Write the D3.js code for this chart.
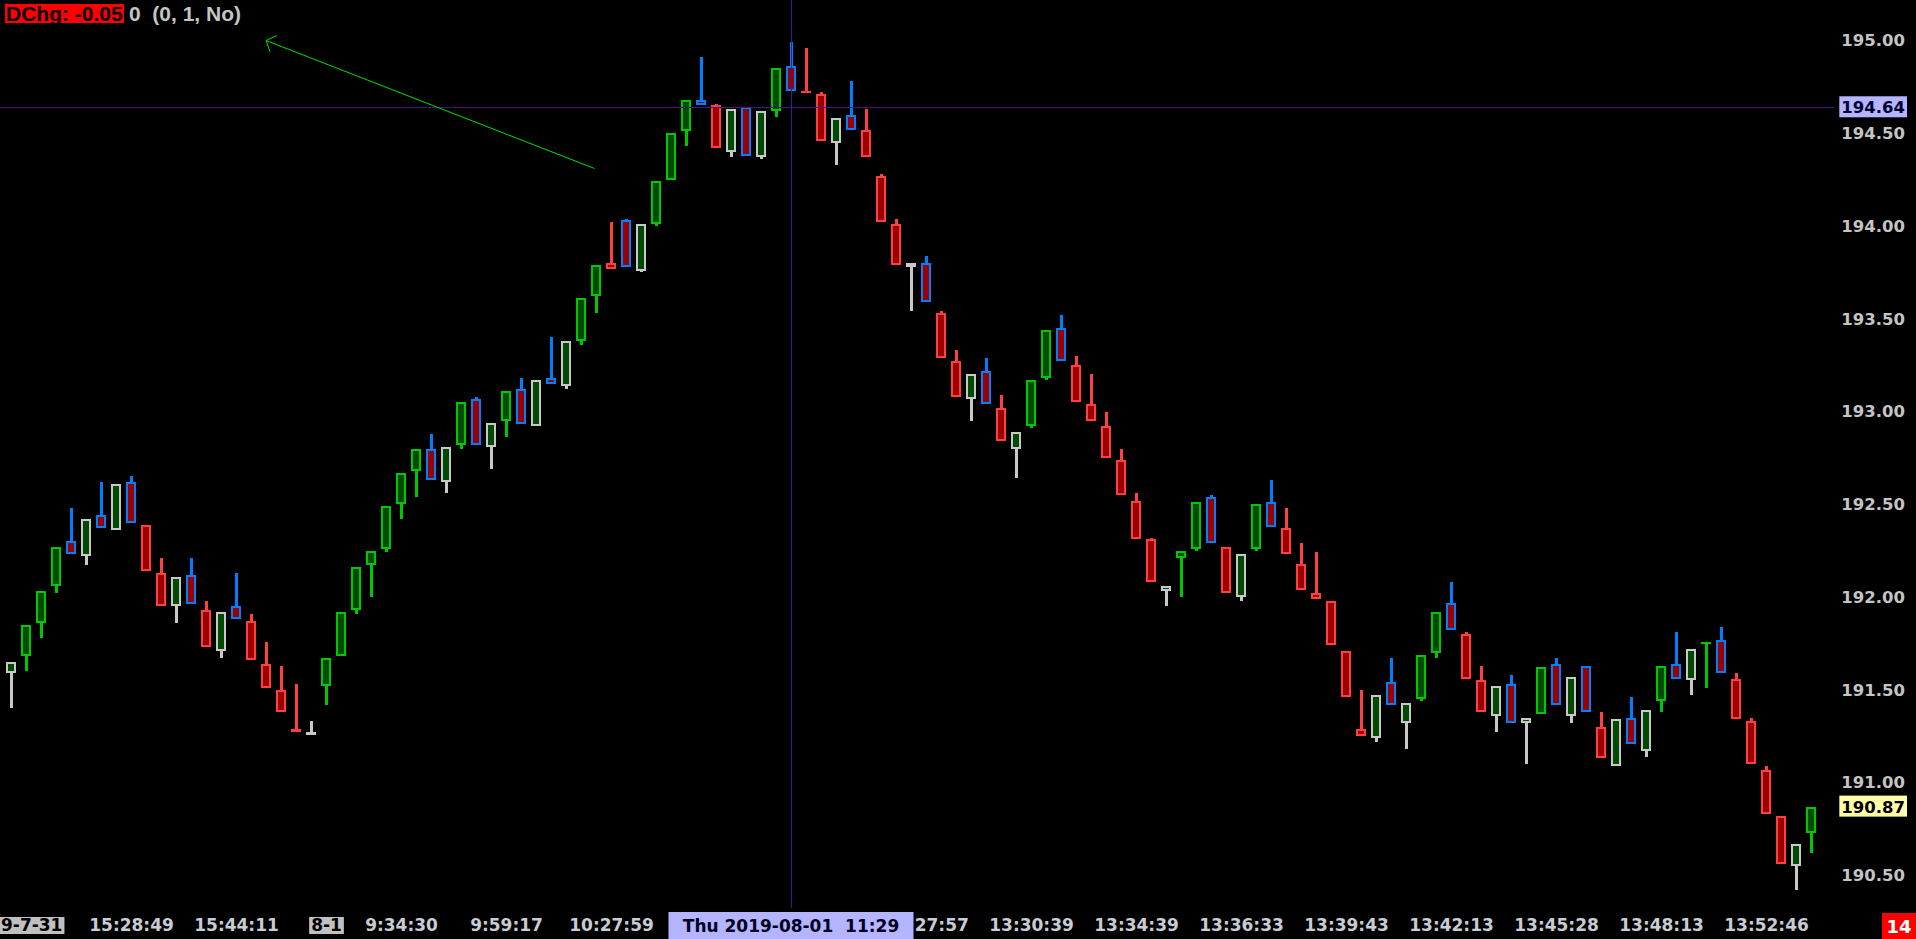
<!DOCTYPE html>
<html><head><meta charset="utf-8">
<script src="https://cdn.jsdelivr.net/npm/d3@7"></script>
<style>
html,body{margin:0;padding:0;background:#000;overflow:hidden}
svg{display:block}
text{white-space:pre}
</style></head><body>
<svg id="chart" width="1916" height="939"></svg>
<script>
// ---------- data ----------
const open = [191.59,191.68,191.86,192.06,192.30,192.22,192.44,192.36,192.62,192.39,
192.13,191.95,192.12,191.93,191.71,191.95,191.87,191.64,191.50,191.29,
191.26,191.52,191.68,191.93,192.17,192.26,192.50,192.68,192.80,192.62,
192.82,193.07,192.81,192.95,193.12,192.92,193.18,193.14,193.38,193.62,
193.80,194.03,193.76,194.01,194.25,194.51,194.68,194.65,194.40,194.64,
194.37,194.62,194.86,194.73,194.71,194.45,194.60,194.52,194.27,194.01,
193.78,193.80,193.53,193.27,193.07,193.22,193.02,192.80,192.92,193.18,
193.45,193.25,193.04,192.92,192.74,192.52,192.31,192.03,192.21,192.26,
192.54,192.27,192.00,192.26,192.51,192.37,192.18,192.02,191.98,191.71,
191.29,191.24,191.54,191.32,191.45,191.70,191.97,191.80,191.55,191.36,
191.53,191.32,191.37,191.64,191.36,191.63,191.30,191.09,191.35,191.17,
191.44,191.64,191.55,191.76,191.77,191.56,191.33,191.07,190.82,190.55,
190.73];
const high = [191.65,191.85,192.03,192.27,192.48,192.42,192.62,192.61,192.65,192.39,
192.21,192.11,192.21,191.98,191.92,192.13,191.91,191.76,191.63,191.53,
191.33,191.67,191.92,192.16,192.25,192.49,192.67,192.80,192.88,192.81,
193.05,193.08,192.94,193.11,193.18,193.17,193.40,193.38,193.61,193.79,
194.02,194.04,194.01,194.24,194.50,194.68,194.91,194.66,194.63,194.64,
194.62,194.85,194.99,194.96,194.72,194.58,194.78,194.63,194.28,194.04,
193.80,193.84,193.54,193.33,193.20,193.29,193.09,192.89,193.17,193.44,
193.52,193.30,193.20,193.00,192.80,192.56,192.32,192.06,192.25,192.51,
192.55,192.27,192.23,192.50,192.63,192.48,192.29,192.24,191.98,191.71,
191.50,191.47,191.67,191.43,191.69,191.92,192.08,191.81,191.63,191.52,
191.58,191.35,191.62,191.67,191.57,191.63,191.38,191.34,191.46,191.39,
191.63,191.81,191.72,191.76,191.84,191.59,191.35,191.09,190.82,190.67,
190.87];
const low = [191.40,191.60,191.78,192.02,192.23,192.17,192.37,192.36,192.40,192.14,
191.95,191.86,191.96,191.73,191.67,191.88,191.66,191.51,191.38,191.27,
191.26,191.42,191.68,191.91,192.00,192.24,192.42,192.54,192.63,192.56,
192.80,192.82,192.69,192.86,192.93,192.92,193.15,193.12,193.36,193.53,
193.77,193.78,193.75,194.00,194.25,194.43,194.65,194.42,194.37,194.38,
194.36,194.59,194.73,194.72,194.46,194.33,194.52,194.37,194.02,193.79,
193.54,193.59,193.29,193.08,192.95,193.04,192.84,192.64,192.91,193.17,
193.27,193.05,192.95,192.75,192.55,192.31,192.08,191.95,192.00,192.25,
192.29,192.02,191.98,192.25,192.38,192.23,192.04,191.99,191.74,191.46,
191.25,191.22,191.42,191.18,191.44,191.67,191.82,191.56,191.38,191.27,
191.32,191.10,191.37,191.42,191.32,191.38,191.13,191.09,191.21,191.14,
191.38,191.56,191.47,191.51,191.59,191.34,191.10,190.83,190.56,190.42,
190.62];
const close = [191.65,191.85,192.03,192.27,192.23,192.42,192.37,192.61,192.40,192.14,
191.95,192.11,191.96,191.73,191.92,191.88,191.66,191.51,191.38,191.27,
191.27,191.67,191.92,192.16,192.25,192.49,192.67,192.80,192.63,192.81,
193.05,192.82,192.94,193.11,192.93,193.17,193.15,193.38,193.61,193.79,
193.77,193.78,194.01,194.24,194.50,194.68,194.65,194.42,194.63,194.38,
194.62,194.85,194.73,194.72,194.46,194.58,194.52,194.37,194.02,193.79,
193.80,193.59,193.29,193.08,193.20,193.04,192.84,192.89,193.17,193.44,
193.27,193.05,192.95,192.75,192.55,192.31,192.08,192.06,192.25,192.51,
192.29,192.02,192.23,192.50,192.38,192.23,192.04,191.99,191.74,191.46,
191.25,191.47,191.42,191.43,191.69,191.92,191.82,191.56,191.38,191.52,
191.32,191.35,191.62,191.42,191.57,191.38,191.13,191.34,191.21,191.39,
191.63,191.56,191.72,191.76,191.59,191.34,191.10,190.83,190.56,190.67,
190.87];
// 1 = bar confirms its direction (trend outline), 0 = counter bar
const barSignal = [0,1,1,1,0,0,0,0,0,1, 1,0,0,1,0,0,1,1,1,1,
0,1,1,1,1,1,1,1,0,0, 1,0,0,1,0,0,0,0,1,1,
1,0,0,1,1,1,0,1,0,0, 0,1,0,1,1,0,0,1,1,1,
0,0,1,1,0,0,1,0,1,1, 0,1,1,1,1,1,1,0,1,1,
0,1,0,1,0,1,1,1,1,1, 1,0,0,0,1,1,0,1,1,0,
0,0,1,0,0,0,1,0,0,0, 1,0,0,1,0,1,1,1,1,0,
1];
const priceTicks = [190.5,191.0,191.5,192.0,192.5,193.0,193.5,194.0,194.5,195.0];
const timeTickIndex  = [1,8,15,21,26,33,40,61,68,75,82,89,96,103,110,117];
const timeTickLabels = ["9-7-31","15:28:49","15:44:11","8-1","9:34:30","9:59:17","10:27:59",
  "13:27:57","13:30:39","13:34:39","13:36:33","13:39:43","13:42:13","13:45:28","13:48:13","13:52:46"];
const dateTicks = ["9-7-31","8-1"];
const cursorIndex = 52, cursorPrice = 194.64, cursorLabel = "Thu 2019-08-01  11:29";
const dayChange = "DChg: -0.05", studyText = "0  (0, 1, No)", barCounter = "14";
const arrowFrom = {i: 38.9, p: 194.31}, arrowTo = {i: 17.0, p: 195.0};

// ---------- drawing ----------
const W = 1916, H = 939;
const svg = d3.select('#chart');
svg.append('rect').attr('width', W).attr('height', H).attr('fill', '#000');

const x = d3.scaleLinear().domain([0, open.length - 1]).range([11, 1811]);
const y = d3.scaleLinear().domain([190.5, 195]).range([875.25, 40.5]);

const bars = open.map((o, i) => ({i, o, h: high[i], l: low[i], c: close[i], s: barSignal[i]}));
const up = d => d.c >= d.o;
const outline = d => up(d) ? (d.s ? '#00c800' : '#c8c8c8') : (d.s ? '#ff4040' : '#0080ff');

const cg = svg.append('g').attr('shape-rendering', 'crispEdges')
  .selectAll('g').data(bars).join('g');
cg.append('rect')
  .attr('x', d => Math.round(x(d.i)) - 1).attr('width', 3)
  .attr('y', d => y(d.h)).attr('height', d => Math.max(1, y(d.l) - y(d.h)))
  .attr('fill', outline);
cg.append('rect')
  .attr('x', d => Math.round(x(d.i)) - 4).attr('width', 8)
  .attr('y', d => Math.min(y(d.o), y(d.c)) + 1)
  .attr('height', d => Math.max(0.5, Math.abs(y(d.o) - y(d.c)) - 2))
  .attr('fill', d => up(d) ? '#004a00' : '#9b0000')
  .attr('stroke', outline).attr('stroke-width', 2);

// crosshair
const cross = svg.append('g').attr('shape-rendering', 'crispEdges');
cross.append('line').attr('x1', 0).attr('x2', 1834)
  .attr('y1', Math.round(y(cursorPrice)) + 0.5).attr('y2', Math.round(y(cursorPrice)) + 0.5)
  .attr('stroke', '#4a1488').attr('stroke-width', 1);
cross.append('line').attr('y1', 0).attr('y2', 908)
  .attr('x1', Math.round(x(cursorIndex)) + 0.5).attr('x2', Math.round(x(cursorIndex)) + 0.5)
  .attr('stroke', '#4a1488').attr('stroke-width', 1);

// arrow annotation
const ax0 = x(arrowFrom.i), ay0 = y(arrowFrom.p), ax1 = x(arrowTo.i), ay1 = y(arrowTo.p);
const ang = Math.atan2(ay0 - ay1, ax0 - ax1);
const arr = svg.append('g').attr('stroke', '#00e000').attr('stroke-width', 1);
arr.append('line').attr('x1', ax0).attr('y1', ay0).attr('x2', ax1).attr('y2', ay1);
[-0.8, 0.85].forEach(a => {
  arr.append('line').attr('x1', ax1).attr('y1', ay1)
    .attr('x2', ax1 + 12 * Math.cos(ang + a)).attr('y2', ay1 + 12 * Math.sin(ang + a));
});

// price axis
const yAxis = d3.axisRight(y).tickValues(priceTicks).tickFormat(d3.format('.2f'))
  .tickSize(0).tickPadding(0);
const yg = svg.append('g').attr('transform', 'translate(1905,0)').call(yAxis);
yg.select('.domain').remove();
yg.selectAll('text').attr('text-anchor', 'end').attr('fill', '#c4c4c4')
  .attr('font-family', 'DejaVu Sans').attr('font-weight', 'bold').attr('font-size', 16.5);

function priceBox(price, bg, fg) {
  const g = svg.append('g').attr('transform', `translate(1905,${y(price)})`);
  const t = g.append('text').attr('text-anchor', 'end').attr('dy', '0.36em')
    .attr('font-family', 'DejaVu Sans').attr('font-weight', 'bold').attr('font-size', 16.5)
    .attr('fill', fg).text(d3.format('.2f')(price));
  const b = t.node().getBBox();
  g.insert('rect', 'text').attr('x', b.x - 2).attr('y', -11).attr('width', b.width + 4)
    .attr('height', 21).attr('fill', bg);
}
priceBox(cursorPrice, '#b4b4ff', '#000030');
priceBox(close[close.length - 1], '#ffffa8', '#000000');

// cursor time box extent
const boxHalfW = 122.5;
const boxL = x(cursorIndex) - boxHalfW, boxR = x(cursorIndex) + boxHalfW;

// time axis
const xAxis = d3.axisBottom(x).tickValues(timeTickIndex)
  .tickFormat((d, k) => timeTickLabels[k]).tickSize(0).tickPadding(0);
const xg = svg.append('g').attr('transform', 'translate(0,919)').call(xAxis);
xg.select('.domain').remove();
xg.selectAll('text').attr('fill', '#c8ccd4').attr('font-family', 'DejaVu Sans')
  .attr('font-weight', 'bold').attr('font-size', 17);
xg.selectAll('.tick').each(function (d, k) {
  const t = d3.select(this).select('text');
  const cx = x(d);
  // labels partly covered by the cursor box: only the uncovered tail is shown
  let b = t.node().getBBox();
  if (cx + b.x < boxR && cx + b.x + b.width > boxL) {
    const right = b.x + b.width;
    let s = timeTickLabels[k];
    t.attr('text-anchor', 'end').attr('x', right);
    while (s.length > 1) {
      t.text(s);
      const bb = t.node().getBBox();
      if (cx + bb.x >= boxR - 3) break;
      s = s.slice(1);
    }
  }
  if (dateTicks.includes(timeTickLabels[k])) {
    t.attr('fill', '#000');
    if (k === 0) t.attr('text-anchor', 'start').attr('x', 0.5 - cx);
    b = t.node().getBBox();
    d3.select(this).insert('rect', 'text').attr('x', b.x - 2).attr('y', -2)
      .attr('width', b.width + 4).attr('height', 17).attr('fill', '#c0c0c0');
  }
});

// cursor time box
const cb = svg.append('g').attr('transform', `translate(${x(cursorIndex)},0)`);
cb.append('rect').attr('x', -boxHalfW).attr('y', 912).attr('width', 2 * boxHalfW).attr('height', 27).attr('fill', '#b4b4ff');
cb.append('text').attr('text-anchor', 'middle').attr('y', 932).attr('font-family', 'DejaVu Sans')
  .attr('font-weight', 'bold').attr('font-size', 17).attr('fill', '#000020').text(cursorLabel);

// bar counter box
const rc = svg.append('g');
rc.append('rect').attr('x', 1882).attr('y', 913).attr('width', 34).attr('height', 26).attr('fill', '#ff0000');
rc.append('text').attr('x', 1899).attr('y', 933).attr('text-anchor', 'middle')
  .attr('font-family', 'DejaVu Sans').attr('font-weight', 'bold').attr('font-size', 18)
  .attr('fill', '#ffffff').text(barCounter);

// header
const hd = svg.append('g').attr('font-family', 'Liberation Sans').attr('font-weight', 'bold').attr('font-size', 21);
const t1 = hd.append('text').attr('x', 6).attr('y', 21).attr('fill', '#000').text(dayChange);
const b1 = t1.node().getBBox();
hd.insert('rect', 'text').attr('x', 5).attr('y', 4).attr('width', b1.width + 2).attr('height', 19).attr('fill', '#ff0000');
hd.append('text').attr('x', b1.x + b1.width + 6).attr('y', 21).attr('fill', '#c4c4c4').text(studyText);
</script>
</body></html>
